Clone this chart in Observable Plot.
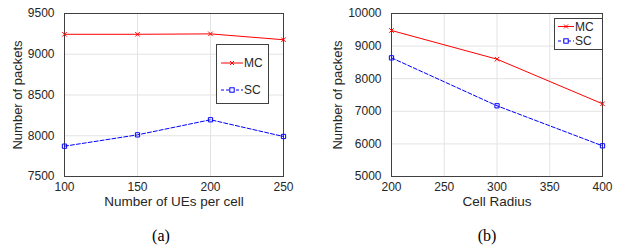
<!DOCTYPE html>
<html><head><meta charset="utf-8">
<script src="https://cdn.jsdelivr.net/npm/d3@7"></script>
<script src="https://cdn.jsdelivr.net/npm/@observablehq/plot@0.6"></script>
<style>
body{margin:0;background:#fff;}
#wrap{position:relative;width:618px;height:249px;background:#fff;overflow:hidden;}
.panel{position:absolute;top:0;}
.cap{position:absolute;top:227px;font-family:"Liberation Serif","Times New Roman",serif;font-size:16px;color:#000;transform:translateX(-50%);}
.leg{position:absolute;background:#fff;border:1px solid #404040;box-sizing:border-box;font-family:"Liberation Sans",Arial,sans-serif;font-size:12px;color:#262626;}
.leg svg{position:absolute;left:0;top:0;}
</style></head>
<body><div id="wrap"></div>
<script>
// Panel (a)
const uesPerCell = [100, 150, 200, 250];
const mcA = [9245, 9245, 9250, 9178];
const scA = [7872, 8011, 8196, 7991];
const yTicksA = [7500, 8000, 8500, 9000, 9500];
// Panel (b)
const cellRadius = [200, 300, 400];
const mcB = [9479, 8599, 7230];
const scB = [8640, 7169, 5941];
const xTicksB = [200, 250, 300, 350, 400];
const yTicksB = [5000, 6000, 7000, 8000, 9000, 10000];
const seriesNames = ["MC", "SC"];
const captions = ["(a)", "(b)"];

const RED = "#ff0000", BLUE = "#0000ff";
const wrap = document.getElementById("wrap");

function panel({xs, mc, sc, xTicks, yTicks, xDomain, yDomain, xLabel, width, ml, mr, yLabelOffset}) {
  const mcData = xs.map((x, i) => ({x, y: mc[i]}));
  const scData = xs.map((x, i) => ({x, y: sc[i]}));
  return Plot.plot({
    width, height: 215,
    marginLeft: ml, marginRight: mr, marginTop: 13, marginBottom: 39,
    style: {fontFamily: "'Liberation Sans', Arial, sans-serif", fontSize: "12px", color: "#262626", background: "#fff"},
    x: {domain: xDomain, ticks: xTicks, tickFormat: d => String(d), label: null},
    y: {domain: yDomain, ticks: yTicks, tickFormat: d => String(d), label: null},
    marks: [
      Plot.gridX(xTicks, {stroke: "#e3e3e3", strokeOpacity: 1}),
      Plot.gridY(yTicks, {stroke: "#e3e3e3", strokeOpacity: 1}),
      Plot.axisX(xTicks, {tickSize: 0, tickPadding: 6, tickFormat: d => String(d), fontSize: 12, label: null}),
      Plot.axisY(yTicks, {tickSize: 0, tickPadding: 10, tickFormat: d => String(d), fontSize: 12, label: null}),
      Plot.text([xLabel], {frameAnchor: "bottom", dy: 29, text: d => d, fontSize: 13.5, lineAnchor: "bottom", textAnchor: "middle"}),
      Plot.text(["Number of packets"], {frameAnchor: "left", dx: -yLabelOffset, rotate: -90, text: d => d, fontSize: 13, lineAnchor: "top", textAnchor: "middle"}),
      Plot.frame({stroke: "#404040"}),
      Plot.line(mcData, {x: "x", y: "y", stroke: RED, strokeWidth: 1}),
      Plot.line(scData, {x: "x", y: "y", stroke: BLUE, strokeWidth: 1, strokeDasharray: "4,2"}),
      Plot.dot(mcData, {x: "x", y: "y", symbol: "times", r: 2.2, stroke: RED, strokeWidth: 1}),
      Plot.dot(scData, {x: "x", y: "y", symbol: "square", r: 2.4, stroke: BLUE, fill: "none", strokeWidth: 1})
    ]
  });
}

const a = panel({xs: uesPerCell, mc: mcA, sc: scA, xTicks: uesPerCell, yTicks: yTicksA, xDomain: [100, 250], yDomain: [7500, 9500], xLabel: "Number of UEs per cell", width: 310, ml: 64, mr: 27, yLabelOffset: 52});
a.classList.add("panel"); a.style.left = "0px";
wrap.appendChild(a);
const b = panel({xs: cellRadius, mc: mcB, sc: scB, xTicks: xTicksB, yTicks: yTicksB, xDomain: [200, 400], yDomain: [5000, 10000], xLabel: "Cell Radius", width: 308, ml: 81, mr: 16, yLabelOffset: 59});
b.classList.add("panel"); b.style.left = "310px";
wrap.appendChild(b);

function legend(left, top, w, h, rows, lineX0, lineX1, textX) {
  const d = document.createElement("div");
  d.className = "leg";
  Object.assign(d.style, {left: left + "px", top: top + "px", width: w + "px", height: h + "px"});
  const ns = "http://www.w3.org/2000/svg";
  const svg = document.createElementNS(ns, "svg");
  svg.setAttribute("width", w); svg.setAttribute("height", h);
  rows.forEach((r, i) => {
    const cx = (lineX0 + lineX1) / 2;
    const ln = document.createElementNS(ns, "line");
    ln.setAttribute("x1", lineX0); ln.setAttribute("x2", lineX1); ln.setAttribute("y1", r.y); ln.setAttribute("y2", r.y);
    ln.setAttribute("stroke", r.color); if (r.dash) ln.setAttribute("stroke-dasharray", r.dash);
    svg.appendChild(ln);
    if (r.sym === "x") {
      const p = document.createElementNS(ns, "path");
      p.setAttribute("d", `M${cx-2},${r.y-2}L${cx+2},${r.y+2}M${cx-2},${r.y+2}L${cx+2},${r.y-2}`);
      p.setAttribute("stroke", r.color); svg.appendChild(p);
    } else {
      const s = document.createElementNS(ns, "rect");
      s.setAttribute("x", cx - 2.2); s.setAttribute("y", r.y - 2.2); s.setAttribute("width", 4.4); s.setAttribute("height", 4.4);
      s.setAttribute("stroke", r.color); s.setAttribute("fill", "#fff"); svg.appendChild(s);
    }
    const t = document.createElementNS(ns, "text");
    t.setAttribute("x", textX); t.setAttribute("y", r.y); t.setAttribute("dy", "0.35em");
    t.setAttribute("font-size", "12"); t.setAttribute("fill", "#262626");
    t.textContent = r.name; svg.appendChild(t);
  });
  d.appendChild(svg);
  wrap.appendChild(d);
}
legend(216, 44, 53, 60, [
  {name: seriesNames[0], y: 18, color: RED, sym: "x"},
  {name: seriesNames[1], y: 45, color: BLUE, sym: "s", dash: "3,2"}
], 4, 26, 27);
legend(554, 18, 49, 32, [
  {name: seriesNames[0], y: 7.5, color: RED, sym: "x"},
  {name: seriesNames[1], y: 22, color: BLUE, sym: "s", dash: "3,2"}
], 3, 19, 20);

captions.forEach((c, i) => {
  const el = document.createElement("div");
  el.className = "cap"; el.textContent = c;
  el.style.left = (i === 0 ? 161 : 487) + "px";
  wrap.appendChild(el);
});
</script></body></html>
